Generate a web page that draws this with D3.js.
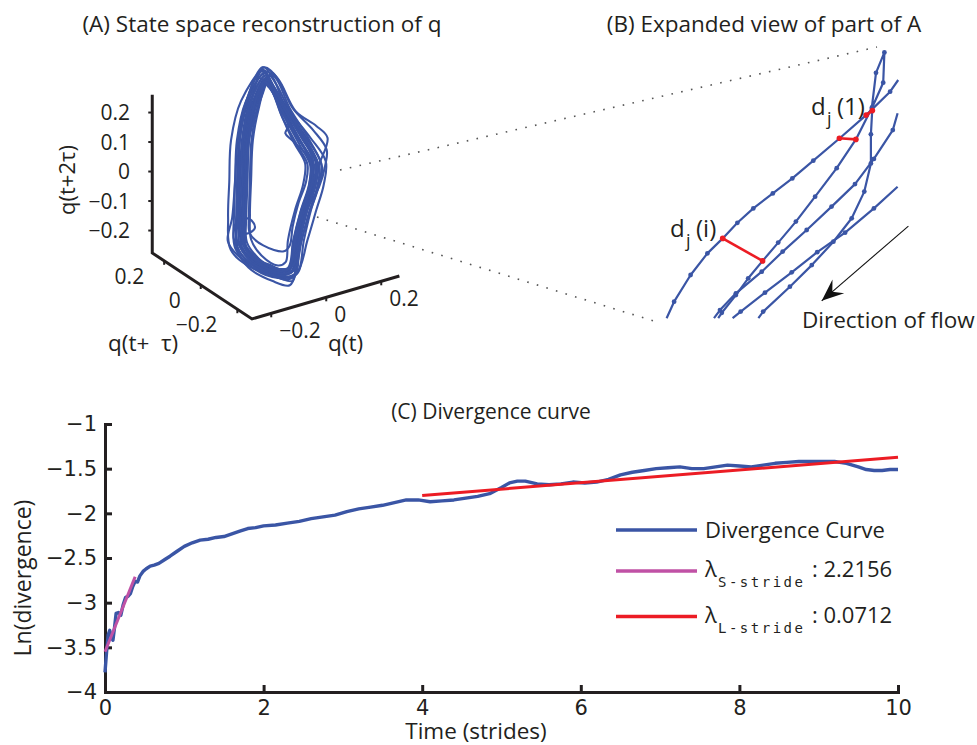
<!DOCTYPE html>
<html>
<head>
<meta charset="utf-8">
<script src="https://cdn.jsdelivr.net/npm/d3@7"></script>
<style>
  body { margin: 0; background: #fff; }
  text { font-family: "Open Sans", sans-serif; fill: #231f20; }
</style>
</head>
<body>
<div id="chart"></div>
<script>
// ---------- data ----------
// (C) divergence curve
var timeStrides = [0, 0.02, 0.04, 0.06, 0.08, 0.10, 0.12, 0.14, 0.17, 0.20, 0.23, 0.26, 0.29, 0.32, 0.35,
  0.38, 0.41, 0.44, 0.48, 0.52, 0.57, 0.62, 0.68, 0.75, 0.82, 0.9, 1.0, 1.1, 1.2, 1.3, 1.4, 1.5, 1.6,
  1.7, 1.8, 1.9, 2.0, 2.15, 2.3, 2.45, 2.6, 2.75, 2.9, 3.05, 3.2, 3.35, 3.5, 3.65, 3.8, 3.95, 4.1,
  4.25, 4.4, 4.55, 4.7, 4.85, 5.0, 5.1, 5.2, 5.3, 5.45, 5.6, 5.75, 5.9, 6.05, 6.2, 6.35, 6.5, 6.65,
  6.8, 6.95, 7.1, 7.25, 7.4, 7.55, 7.7, 7.85, 8.0, 8.15, 8.3, 8.45, 8.6, 8.75, 8.9, 9.05, 9.2, 9.35,
  9.5, 9.6, 9.7, 9.8, 9.9, 10];
var lnDivergence = [-3.78, -3.55, -3.36, -3.31, -3.38, -3.42, -3.28, -3.12, -3.11, -3.14, -3.02, -2.94,
  -2.93, -2.90, -2.82, -2.76, -2.77, -2.70, -2.65, -2.62, -2.59, -2.58, -2.56, -2.52, -2.48, -2.43,
  -2.37, -2.33, -2.30, -2.29, -2.27, -2.26, -2.23, -2.20, -2.17, -2.16, -2.14, -2.13, -2.11, -2.09,
  -2.06, -2.04, -2.02, -1.98, -1.95, -1.93, -1.91, -1.88, -1.85, -1.85, -1.87, -1.86, -1.85, -1.83,
  -1.81, -1.78, -1.71, -1.66, -1.64, -1.64, -1.67, -1.68, -1.67, -1.65, -1.66, -1.65, -1.62, -1.57,
  -1.54, -1.52, -1.50, -1.49, -1.48, -1.50, -1.50, -1.48, -1.46, -1.47, -1.48, -1.46, -1.44, -1.43,
  -1.42, -1.42, -1.42, -1.42, -1.44, -1.48, -1.51, -1.52, -1.52, -1.51, -1.51];
var fitShortT = [0, 0.38], fitShortV = [-3.55, -2.71];   // lambda S-stride = 2.2156
var fitLongT = [4, 10],   fitLongV = [-1.80, -1.373];    // lambda L-stride = 0.0712
var xTicksC = [0, 2, 4, 6, 8, 10];
var yTicksC = [-4, -3.5, -3, -2.5, -2, -1.5, -1];
var legendNames = ["Divergence Curve", "S-stride", "L-stride"];
var legendValues = ["", ": 2.2156", ": 0.0712"];

// (A) 3-D axes ticks
var qTicks = [-0.2, 0, 0.2];
var zTicks = [-0.2, -0.1, 0, 0.1, 0.2];
// attractor loops projected on the view plane, in thousandths of q
var attractorLoops = [
  [[-31,353],[-78,261],[-102,142],[-108,7],[-112,-112],[-108,-214],[-58,-271],[10,-305],[54,-292],[71,-197],[95,-95],[122,-10],[129,64],[85,142],[31,237],[-10,319]],
  [[-35,368],[-100,270],[-129,142],[-135,7],[-139,-112],[-135,-224],[-75,-291],[10,-325],[74,-312],[98,-197],[122,-95],[149,-10],[156,64],[105,152],[40,250],[-12,334]],
  [[-28,338],[-55,250],[-75,142],[-81,7],[-85,-112],[-81,-195],[-45,-250],[10,-283],[36,-272],[44,-197],[68,-95],[95,-10],[102,64],[65,132],[22,225],[-8,305]],
  [[-40,380],[-115,275],[-149,142],[-155,0],[-159,-120],[-150,-230],[-80,-290],[0,-310],[45,-290],[62,-197],[88,-95],[115,-10],[120,64],[80,150],[28,245],[-15,345]],
  [[-25,350],[-65,258],[-88,142],[-93,7],[-97,-112],[-95,-205],[-45,-270],[20,-320],[75,-305],[110,-197],[140,-95],[165,-10],[172,70],[120,150],[45,245],[-5,325]],
  [[-38,388],[-82,265],[-106,140],[-112,5],[-118,-115],[-112,-220],[-62,-275],[12,-310],[58,-298],[76,-197],[102,-95],[130,-10],[150,60],[178,150],[140,190],[70,240],[10,350]],
  [[-32,350],[-80,258],[-104,140],[-110,5],[-114,-112],[-80,-130],[-68,-155],[-85,-172],[-110,-180],[-112,-230],[-62,-278],[8,-300],[52,-288],[66,-197],[92,-95],[120,-10],[126,64],[82,142],[30,237],[-12,318]],
  [[-41,390],[-92,290],[-125,150],[-135,10],[-145,-120],[-160,-200],[-125,-250],[-60,-290],[15,-325],[60,-335],[70,-280],[80,-190],[105,-90],[133,-5],[138,70],[95,150],[35,250],[-5,350]],
  [[-30,345],[-75,262],[-98,142],[-104,7],[-108,-112],[-104,-212],[-55,-268],[12,-300],[55,-288],[70,-195],[96,-95],[124,-8],[128,62],[60,140],[35,165],[45,190],[25,240],[-8,315]],
  [[-33,360],[-88,265],[-112,142],[-118,7],[-122,-112],[-118,-220],[-66,-280],[10,-313],[62,-300],[80,-197],[104,-95],[132,-10],[139,64],[92,146],[35,242],[-11,326]],
  [[-30,335],[-70,250],[-92,130],[-98,-5],[-102,-125],[-98,-225],[-52,-280],[10,-312],[48,-300],[62,-205],[86,-105],[114,-20],[120,55],[80,132],[28,228],[-9,305]],
  [[-36,372],[-92,268],[-120,142],[-127,7],[-131,-112],[-125,-225],[-70,-288],[5,-318],[64,-300],[85,-197],[110,-95],[138,-10],[145,64],[95,146],[37,242],[-12,336]],
  [[-20,360],[-60,270],[-90,145],[-100,10],[-105,-110],[-102,-210],[-50,-265],[15,-298],[58,-285],[75,-190],[100,-90],[128,-5],[140,70],[100,150],[45,250],[5,330]],
  [[-28,340],[-60,250],[-80,140],[-85,10],[-88,-110],[-85,-175],[-40,-215],[30,-235],[50,-215],[60,-150],[80,-70],[105,0],[110,60],[75,125],[25,220],[-5,300]],
  [[-60,355],[-95,270],[-120,150],[-128,20],[-130,-100],[-128,-200],[-80,-265],[0,-300],[50,-295],[68,-210],[90,-110],[118,-20],[132,60],[100,140],[40,230],[-20,320]],
  [[-10,370],[-45,290],[-85,160],[-100,20],[-108,-100],[-110,-205],[-60,-262],[15,-295],[62,-282],[82,-190],[110,-90],[150,-15],[170,55],[175,110],[130,175],[60,250],[20,330]],
  [[-32,362],[-85,265],[-110,140],[-118,0],[-125,-120],[-130,-220],[-90,-290],[-10,-335],[50,-350],[72,-300],[82,-200],[108,-100],[136,-12],[142,62],[96,145],[36,240],[-10,330]],
  [[-25,345],[-70,262],[-95,135],[-100,0],[-100,-120],[-95,-230],[-40,-285],[25,-310],[66,-295],[90,-200],[116,-100],[142,-20],[150,50],[110,135],[50,230],[0,310]],
  [[-45,375],[-95,280],[-118,150],[-122,15],[-128,-105],[-140,-190],[-110,-250],[-45,-295],[30,-330],[68,-318],[84,-220],[112,-120],[142,-30],[160,50],[118,140],[50,250],[0,355]],
  [[-38,340],[-72,255],[-88,150],[-95,30],[-100,-90],[-112,-190],[-80,-255],[-20,-280],[40,-300],[60,-260],[72,-170],[98,-80],[126,0],[118,80],[70,160],[20,250],[-15,320]]
];

// (B) expanded view: trajectory pieces in local units
var trajA = [[2.2,0.6],[4.7,6.1],[10.2,15.0],[15.8,22.2],[20.9,27.2],[25.8,32.4],[31.1,37.2],[37.6,42.2],[44.1,47.2],[51.1,53.1],[59.8,60.5],[68.7,68.3],[76.7,76.1],[79.4,80.0]];
var trajB = [[19.4,0.6],[20.6,2.4],[25.3,8.3],[29.4,13.9],[34.2,19.7],[39.4,25.8],[45.3,32.8],[51.7,41.1],[58.9,50.6],[65.3,60.2],[70.6,70.7],[72.0,82.4],[74.8,89.2],[74.4,79.1],[70.8,71.0],[70.3,61.9],[70.3,52.2],[68.1,42.8],[63.9,33.9],[57.8,26.1],[50.6,18.3],[43.3,11.1],[34.4,2.8],[32.8,0.6]];
var trajC = [[79.2,68.9],[77.6,63.3],[71.3,53.7],[65.0,45.3],[57.2,37.8],[48.9,30.0],[40.9,22.8],[33.9,16.1],[25.3,8.9],[20.0,3.3],[18.0,0.6]];
var trajD = [[79.2,44.4],[71.3,37.2],[61.7,29.1],[52.4,22.6],[43.9,15.9],[35.0,9.1],[26.9,2.8],[24.2,0.6]];
var divergencePairs = [
  [[68.7,68.3],[70.8,69.8]],
  [[59.8,60.6],[65.3,60.2]],
  [[20.9,27.2],[34.2,19.7]]
];

var blue = "#3a55a5", red = "#ec1c24", magenta = "#c051a5", ink = "#231f20";

var svg = d3.select("#chart")
  .append("svg")
    .attr("width", 977)
    .attr("height", 745);

// ---------- panel A: state space reconstruction ----------
// oblique projection of (q(t), q(t+tau), q(t+2tau)) onto the page
function proj(qt, qtau, qz) {
  return [275 + 275 * qt - 183 * qtau, 182 - 80 * qt - 121 * qtau - 295 * qz];
}
var qtMin = -0.27, qtMax = 0.266, qtauMin = -0.28, qtauMax = 0.265, zMin = -0.276, zMax = 0.26;

svg.append("text").attr("x", 262).attr("y", 32).attr("text-anchor", "middle")
  .style("font-size", "22.5px").text("(A) State space reconstruction of q");

// dotted zoom lines towards panel B
var dotted = [[[340, 170], [877, 47]], [[317, 217], [657, 322]]];
svg.selectAll(".zoomline").data(dotted).enter().append("path")
  .attr("d", function(d) { return d3.line()(d); })
  .attr("stroke", "#555").attr("stroke-width", 1.6)
  .attr("stroke-dasharray", "1.6 8.4").attr("fill", "none");

// attractor
var ax = d3.scaleLinear().domain([0, 1000]).range([275, 570]);
var ay = d3.scaleLinear().domain([0, 1000]).range([182, -113]);
var loopLine = d3.line()
  .x(function(d) { return ax(d[0]); })
  .y(function(d) { return ay(d[1]); })
  .curve(d3.curveCatmullRomClosed.alpha(0.5));
svg.append("g").selectAll("path").data(attractorLoops).enter().append("path")
  .attr("d", loopLine)
  .attr("fill", "none").attr("stroke", blue).attr("stroke-width", 2.1);

// 3-D box axes
var axisPts = [proj(qtMin, qtauMax, zMax), proj(qtMin, qtauMax, zMin),
               proj(qtMin, qtauMin, zMin), proj(qtMax, qtauMin, zMin)];
svg.append("path").attr("d", d3.line()(axisPts))
  .attr("fill", "none").attr("stroke", ink).attr("stroke-width", 3)
  .attr("stroke-linejoin", "miter");

var gA = svg.append("g").style("font-size", "21px");
zTicks.forEach(function(v) {
  var p = proj(qtMin, qtauMax, v);
  gA.append("line").attr("x1", p[0] - 4).attr("x2", p[0]).attr("y1", p[1]).attr("y2", p[1])
    .attr("stroke", ink).attr("stroke-width", 2);
  gA.append("text").attr("x", 130).attr("y", p[1]).attr("dy", "0.36em")
    .attr("text-anchor", "end").text(d3.format("~g")(v));
});
qTicks.forEach(function(v) {
  var p = proj(qtMin, v, zMin);
  gA.append("line").attr("x1", p[0]).attr("x2", p[0]).attr("y1", p[1]).attr("y2", p[1] + 4)
    .attr("stroke", ink).attr("stroke-width", 2);
  gA.append("text").attr("x", p[0] - 20).attr("y", p[1] + 23)
    .attr("text-anchor", "end").text(d3.format("~g")(v));
  var r = proj(v, qtauMin, zMin);
  gA.append("line").attr("x1", r[0]).attr("x2", r[0]).attr("y1", r[1]).attr("y2", r[1] + 4)
    .attr("stroke", ink).attr("stroke-width", 2);
  gA.append("text").attr("x", r[0] + 8).attr("y", r[1] + 25)
    .attr("text-anchor", "start").text(d3.format("~g")(v));
});
gA.append("text").attr("x", 108).attr("y", 351).style("font-size", "22.5px")
  .style("white-space", "pre").text("q(t+  \u03c4)");
gA.append("text").attr("x", 328).attr("y", 351).style("font-size", "22.5px").text("q(t)");
gA.append("text").attr("transform", "translate(75,180) rotate(-90)")
  .attr("text-anchor", "middle").style("font-size", "22px").text("q(t+2\u03c4)");

// ---------- panel B: expanded view ----------
svg.append("text").attr("x", 764).attr("y", 32).attr("text-anchor", "middle")
  .style("font-size", "22.5px").text("(B) Expanded view of part of A");

var bx = d3.scaleLinear().domain([0, 80]).range([660, 900]);
var by = d3.scaleLinear().domain([0, 90]).range([320, 50]);
var bLine = d3.line().x(function(d) { return bx(d[0]); }).y(function(d) { return by(d[1]); });
var trajs = [trajA, trajB, trajC, trajD];
var gB = svg.append("g");
gB.selectAll(".traj").data(trajs).enter().append("path")
  .attr("d", bLine).attr("fill", "none")
  .attr("stroke", blue).attr("stroke-width", 2.2).attr("stroke-linejoin", "round");
trajs.forEach(function(t) {
  gB.selectAll(null).data(t.slice(1, -1)).enter().append("circle")
    .attr("cx", function(d) { return bx(d[0]); })
    .attr("cy", function(d) { return by(d[1]); })
    .attr("r", 2.4).attr("fill", blue);
});
divergencePairs.forEach(function(pr) {
  gB.append("path").attr("d", bLine(pr)).attr("stroke", red).attr("stroke-width", 2.6);
  gB.selectAll(null).data(pr).enter().append("circle")
    .attr("cx", function(d) { return bx(d[0]); })
    .attr("cy", function(d) { return by(d[1]); })
    .attr("r", 2.8).attr("fill", red);
});

// labels d_j(1), d_j(i)
function djLabel(x, y, idx) {
  var g = gB.append("g").style("font-size", "24px");
  g.append("text").attr("x", x).attr("y", y).text("d");
  g.append("text").attr("x", x + 16).attr("y", y + 10).style("font-size", "18px").text("j");
  g.append("text").attr("x", x + 26).attr("y", y).text("(" + idx + ")");
}
djLabel(811, 115, "1");
djLabel(670, 237, "i");

// direction arrow
svg.append("defs").append("marker")
  .attr("id", "head").attr("markerUnits", "userSpaceOnUse")
  .attr("viewBox", "-24 -12 26 24").attr("refX", 0).attr("refY", 0)
  .attr("markerWidth", 26).attr("markerHeight", 24).attr("orient", "auto")
  .append("path").attr("d", "M0,0 L-22,-9 L-14,0 L-22,9 Z").attr("fill", "#111");
svg.append("line")
  .attr("x1", bx(82.8)).attr("y1", by(31.3)).attr("x2", bx(53.9)).attr("y2", by(6.4))
  .attr("stroke", "#111").attr("stroke-width", 1.1).attr("marker-end", "url(#head)");
svg.append("text").attr("x", 802).attr("y", 328).style("font-size", "22.5px").text("Direction of flow");

// ---------- panel C: divergence curve ----------
var x = d3.scaleLinear().domain([0, 10]).range([105, 898]);
var y = d3.scaleLinear().domain([-4, -1]).range([692, 424]);

svg.append("text").attr("x", 491).attr("y", 419).attr("text-anchor", "middle")
  .style("font-size", "21px").text("(C) Divergence curve");

var gx = svg.append("g").attr("transform", "translate(0,692)")
  .call(d3.axisBottom(x).tickValues(xTicksC).tickFormat(d3.format("~g"))
    .tickSizeInner(-7).tickSizeOuter(0).tickPadding(8));
var gy = svg.append("g").attr("transform", "translate(105,0)")
  .call(d3.axisLeft(y).tickValues(yTicksC).tickFormat(d3.format("~g"))
    .tickSizeInner(-7).tickSizeOuter(0).tickPadding(8));
[gx, gy].forEach(function(g) {
  g.select(".domain").attr("stroke", ink).attr("stroke-width", 3).attr("stroke-linecap", "square");
  g.selectAll(".tick line").attr("stroke", ink).attr("stroke-width", 3);
  g.selectAll(".tick text").attr("fill", ink)
    .style("font-family", "'DejaVu Sans', sans-serif").style("font-size", "21px");
});

svg.append("text").attr("x", 476).attr("y", 739).attr("text-anchor", "middle")
  .style("font-size", "22.5px").text("Time (strides)");
svg.append("text").attr("transform", "translate(31,578) rotate(-90)")
  .attr("text-anchor", "middle").style("font-size", "23px").text("Ln(divergence)");

var curve = timeStrides.map(function(t, i) { return [t, lnDivergence[i]]; });
var cLine = d3.line().x(function(d) { return x(d[0]); }).y(function(d) { return y(d[1]); });
svg.append("path").attr("d", cLine(curve))
  .attr("fill", "none").attr("stroke", blue).attr("stroke-width", 3.4).attr("stroke-linejoin", "round");
svg.append("path").attr("d", cLine(fitShortT.map(function(t, i) { return [t, fitShortV[i]]; })))
  .attr("stroke", magenta).attr("stroke-width", 3);
svg.append("path").attr("d", cLine(fitLongT.map(function(t, i) { return [t, fitLongV[i]]; })))
  .attr("stroke", red).attr("stroke-width", 3);

// legend
var legColors = [blue, magenta, red];
var legY = [530, 571, 616.5];
legendNames.forEach(function(name, i) {
  var g = svg.append("g");
  g.append("line").attr("x1", 616).attr("x2", 697).attr("y1", legY[i]).attr("y2", legY[i])
    .attr("stroke", legColors[i]).attr("stroke-width", 3.5);
  if (i === 0) {
    g.append("text").attr("x", 705).attr("y", legY[i] + 8).style("font-size", "22px").text(name);
  } else {
    g.append("text").attr("x", 705).attr("y", legY[i] + 6).style("font-size", "22px").text("\u03bb");
    g.append("text").attr("x", 718).attr("y", legY[i] + 16)
      .style("font-family", "'DejaVu Sans Mono', monospace").style("font-size", "14px")
      .style("letter-spacing", "2.5px").text(name);
    g.append("text").attr("x", 812).attr("y", legY[i] + 6).style("font-size", "22px")
      .style("white-space", "pre").text(legendValues[i]);
  }
});
</script>
</body>
</html>
